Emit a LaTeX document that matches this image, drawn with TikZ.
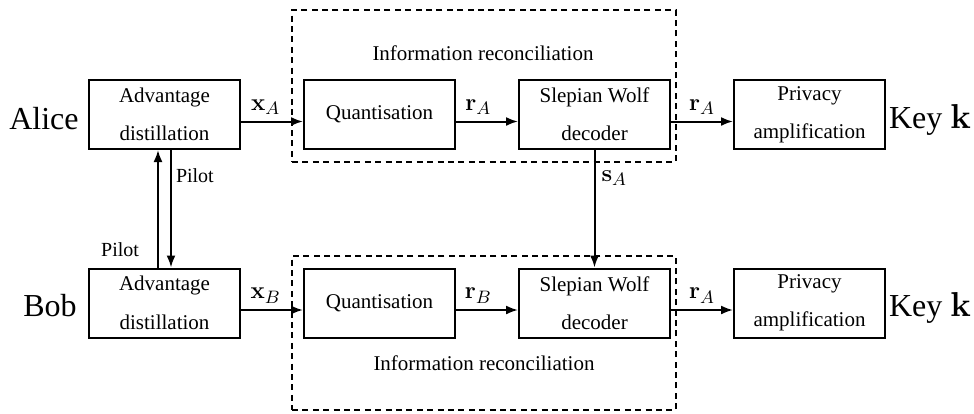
\documentclass[tikz,border=0pt]{standalone}
\usepackage[no-math]{fontspec}
\setmainfont{Liberation Serif}
\usetikzlibrary{arrows.meta}
\begin{document}
\begin{tikzpicture}[x=0.5pt,y=-0.5pt,
 blk/.style={draw,line width=1pt,minimum width=75.5pt,minimum height=34.5pt,inner sep=0pt,align=center,font=\fontsize{10.5}{19.2}\selectfont},
 arr/.style={line width=1pt,-{Latex[length=6pt,width=4.5pt]}},
 grp/.style={draw,line width=0.7pt,dash pattern=on 3pt off 2.2pt,inner sep=0pt},
 lbl/.style={font=\fontsize{13}{15}\selectfont,inner sep=0pt},
 big/.style={font=\fontsize{16}{19}\selectfont,inner sep=0pt},
 small/.style={font=\fontsize{10.5}{12}\selectfont,inner sep=0pt},
 pil/.style={font=\fontsize{10}{12}\selectfont,inner sep=0pt}]
\useasboundingbox (0,0) rectangle (974,413);
% dashed groups
\node[grp,minimum width=192pt,minimum height=76pt] (ir1) at (484,86) {};
\node[grp,minimum width=192pt,minimum height=77pt] (ir2) at (484,333) {};
\node[small,anchor=base] (irt1) at (483,60.7) {Information reconciliation};
\node[small,anchor=base] (irt2) at (484,370.7) {Information reconciliation};
% blocks top
\node[blk] (ad1) at (164.5,114.5) {Advantage\\distillation};
\node[blk] (q1) at (379.5,114.5) {Quantisation};
\node[blk] (sw1) at (594.5,114.5) {Slepian Wolf\\decoder};
\node[blk] (pa1) at (809.5,114.5) {Privacy\\amplification};
% blocks bottom
\node[blk] (ad2) at (164.5,303) {Advantage\\distillation};
\node[blk] (q2) at (379.5,303) {Quantisation};
\node[blk] (sw2) at (594.5,303) {Slepian Wolf\\decoder};
\node[blk] (pa2) at (809.5,303) {Privacy\\amplification};
% side labels
\node[big,anchor=base] (alice) at (44,129) {Alice};
\node[big,anchor=base] (bob) at (50,316) {Bob};
\node[big,anchor=base] (k1) at (930,128) {Key $\mathbf{k}$};
\node[big,anchor=base] (k2) at (930,316.5) {Key $\mathbf{k}$};
% top arrows
\draw[arr] ([yshift=-3.5pt]ad1.east) -- node[lbl,above=3pt,pos=0.4] (lxa) {$\mathbf{x}_A$} ([yshift=-3.5pt]q1.west);
\draw[arr] ([yshift=-3.5pt]q1.east) -- node[lbl,above=3pt,pos=0.36] (lra) {$\mathbf{r}_A$} ([yshift=-3.5pt]sw1.west);
\draw[arr] ([yshift=-3.5pt]sw1.east) -- node[lbl,above=3pt,pos=0.5] (lra2) {$\mathbf{r}_A$} ([yshift=-3.5pt]pa1.west);
% bottom arrows
\draw[arr] ([yshift=-3.5pt]ad2.east) -- node[lbl,above=3pt,pos=0.4] (lxb) {$\mathbf{x}_B$} ([yshift=-3.5pt]q2.west);
\draw[arr] ([yshift=-3.5pt]q2.east) -- node[lbl,above=3pt,pos=0.36] (lrb) {$\mathbf{r}_B$} ([yshift=-3.5pt]sw2.west);
\draw[arr] ([yshift=-3.5pt]sw2.east) -- node[lbl,above=3pt,pos=0.5] (lra3) {$\mathbf{r}_A$} ([yshift=-3.5pt]pa2.west);
% pilot
\draw[arr] ([xshift=-3.25pt]ad2.north) -- node[pil,anchor=east,pos=0.15,xshift=-9pt] (p2) {Pilot} ([xshift=-3.25pt]ad1.south);
\draw[arr] ([xshift=3.25pt]ad1.south) -- node[pil,anchor=west,pos=0.22,xshift=2pt] (p1) {Pilot} ([xshift=3.25pt]ad2.north);
% s_A
\draw[arr] (sw1.south) -- node[lbl,anchor=west,pos=0.24,xshift=3pt] (lsa) {$\mathbf{s}_A$} (sw2.north);
\end{tikzpicture}
\end{document}
